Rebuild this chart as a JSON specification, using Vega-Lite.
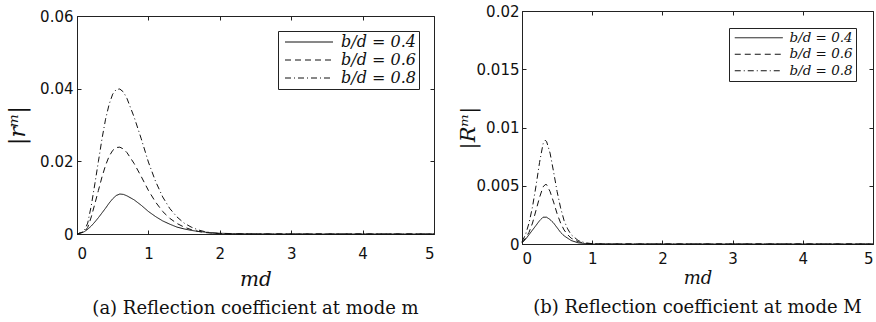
{
  "$schema": "https://vega.github.io/schema/vega-lite/v6.json",
  "padding": {"left": 6, "top": 3, "right": 2, "bottom": 2},
  "background": "white",
  "datasets": {
    "left": [
      {"md": 0, "r": 0, "s": "b/d = 0.4"}, {"md": 0.05, "r": 0.0003, "s": "b/d = 0.4"}, {"md": 0.1, "r": 0.0006, "s": "b/d = 0.4"},
      {"md": 0.15, "r": 0.0013, "s": "b/d = 0.4"}, {"md": 0.2, "r": 0.0022, "s": "b/d = 0.4"}, {"md": 0.25, "r": 0.0033, "s": "b/d = 0.4"},
      {"md": 0.3, "r": 0.0045, "s": "b/d = 0.4"}, {"md": 0.35, "r": 0.0058, "s": "b/d = 0.4"}, {"md": 0.4, "r": 0.0071, "s": "b/d = 0.4"},
      {"md": 0.45, "r": 0.0085, "s": "b/d = 0.4"}, {"md": 0.5, "r": 0.0097, "s": "b/d = 0.4"}, {"md": 0.55, "r": 0.0106, "s": "b/d = 0.4"},
      {"md": 0.6, "r": 0.011, "s": "b/d = 0.4"}, {"md": 0.65, "r": 0.0109, "s": "b/d = 0.4"}, {"md": 0.7, "r": 0.0105, "s": "b/d = 0.4"},
      {"md": 0.8, "r": 0.0094, "s": "b/d = 0.4"}, {"md": 0.9, "r": 0.0079, "s": "b/d = 0.4"}, {"md": 1.0, "r": 0.0062, "s": "b/d = 0.4"},
      {"md": 1.1, "r": 0.0048, "s": "b/d = 0.4"}, {"md": 1.2, "r": 0.0036, "s": "b/d = 0.4"}, {"md": 1.3, "r": 0.0027, "s": "b/d = 0.4"},
      {"md": 1.4, "r": 0.0019, "s": "b/d = 0.4"}, {"md": 1.5, "r": 0.0014, "s": "b/d = 0.4"}, {"md": 1.6, "r": 0.001, "s": "b/d = 0.4"},
      {"md": 1.7, "r": 0.0007, "s": "b/d = 0.4"}, {"md": 1.8, "r": 0.0005, "s": "b/d = 0.4"}, {"md": 1.9, "r": 0.0003, "s": "b/d = 0.4"},
      {"md": 2.0, "r": 0.0002, "s": "b/d = 0.4"}, {"md": 2.2, "r": 0.0001, "s": "b/d = 0.4"}, {"md": 2.5, "r": 0.00003, "s": "b/d = 0.4"},
      {"md": 3, "r": 0, "s": "b/d = 0.4"}, {"md": 4, "r": 0, "s": "b/d = 0.4"}, {"md": 5, "r": 0, "s": "b/d = 0.4"},

      {"md": 0, "r": 0, "s": "b/d = 0.6"}, {"md": 0.05, "r": 0.0003, "s": "b/d = 0.6"}, {"md": 0.1, "r": 0.0005, "s": "b/d = 0.6"},
      {"md": 0.15, "r": 0.0018, "s": "b/d = 0.6"}, {"md": 0.2, "r": 0.0047, "s": "b/d = 0.6"}, {"md": 0.25, "r": 0.0083, "s": "b/d = 0.6"},
      {"md": 0.3, "r": 0.012, "s": "b/d = 0.6"}, {"md": 0.35, "r": 0.0157, "s": "b/d = 0.6"}, {"md": 0.4, "r": 0.0189, "s": "b/d = 0.6"},
      {"md": 0.45, "r": 0.0214, "s": "b/d = 0.6"}, {"md": 0.5, "r": 0.023, "s": "b/d = 0.6"}, {"md": 0.55, "r": 0.0238, "s": "b/d = 0.6"},
      {"md": 0.6, "r": 0.0239, "s": "b/d = 0.6"}, {"md": 0.65, "r": 0.0234, "s": "b/d = 0.6"}, {"md": 0.7, "r": 0.0224, "s": "b/d = 0.6"},
      {"md": 0.8, "r": 0.0194, "s": "b/d = 0.6"}, {"md": 0.9, "r": 0.0158, "s": "b/d = 0.6"}, {"md": 1.0, "r": 0.012, "s": "b/d = 0.6"},
      {"md": 1.1, "r": 0.0088, "s": "b/d = 0.6"}, {"md": 1.2, "r": 0.0062, "s": "b/d = 0.6"}, {"md": 1.3, "r": 0.0043, "s": "b/d = 0.6"},
      {"md": 1.4, "r": 0.0029, "s": "b/d = 0.6"}, {"md": 1.5, "r": 0.0019, "s": "b/d = 0.6"}, {"md": 1.6, "r": 0.0012, "s": "b/d = 0.6"},
      {"md": 1.7, "r": 0.0007, "s": "b/d = 0.6"}, {"md": 1.8, "r": 0.0004, "s": "b/d = 0.6"}, {"md": 1.9, "r": 0.0002, "s": "b/d = 0.6"},
      {"md": 2.0, "r": 0.0001, "s": "b/d = 0.6"}, {"md": 2.2, "r": 0.00003, "s": "b/d = 0.6"}, {"md": 2.5, "r": 0, "s": "b/d = 0.6"},
      {"md": 3, "r": 0, "s": "b/d = 0.6"}, {"md": 4, "r": 0, "s": "b/d = 0.6"}, {"md": 5, "r": 0, "s": "b/d = 0.6"},

      {"md": 0, "r": 0, "s": "b/d = 0.8"}, {"md": 0.05, "r": 0.0003, "s": "b/d = 0.8"}, {"md": 0.1, "r": 0.0008, "s": "b/d = 0.8"},
      {"md": 0.15, "r": 0.003, "s": "b/d = 0.8"}, {"md": 0.2, "r": 0.0078, "s": "b/d = 0.8"}, {"md": 0.25, "r": 0.0138, "s": "b/d = 0.8"},
      {"md": 0.3, "r": 0.02, "s": "b/d = 0.8"}, {"md": 0.35, "r": 0.0262, "s": "b/d = 0.8"}, {"md": 0.4, "r": 0.0316, "s": "b/d = 0.8"},
      {"md": 0.45, "r": 0.0357, "s": "b/d = 0.8"}, {"md": 0.5, "r": 0.0385, "s": "b/d = 0.8"}, {"md": 0.55, "r": 0.0398, "s": "b/d = 0.8"},
      {"md": 0.6, "r": 0.0399, "s": "b/d = 0.8"}, {"md": 0.65, "r": 0.0391, "s": "b/d = 0.8"}, {"md": 0.7, "r": 0.0373, "s": "b/d = 0.8"},
      {"md": 0.8, "r": 0.0322, "s": "b/d = 0.8"}, {"md": 0.9, "r": 0.0262, "s": "b/d = 0.8"}, {"md": 1.0, "r": 0.0198, "s": "b/d = 0.8"},
      {"md": 1.1, "r": 0.0145, "s": "b/d = 0.8"}, {"md": 1.2, "r": 0.0102, "s": "b/d = 0.8"}, {"md": 1.3, "r": 0.007, "s": "b/d = 0.8"},
      {"md": 1.4, "r": 0.0047, "s": "b/d = 0.8"}, {"md": 1.5, "r": 0.003, "s": "b/d = 0.8"}, {"md": 1.6, "r": 0.0019, "s": "b/d = 0.8"},
      {"md": 1.7, "r": 0.0011, "s": "b/d = 0.8"}, {"md": 1.8, "r": 0.0006, "s": "b/d = 0.8"}, {"md": 1.9, "r": 0.0003, "s": "b/d = 0.8"},
      {"md": 2.0, "r": 0.00015, "s": "b/d = 0.8"}, {"md": 2.2, "r": 0.00004, "s": "b/d = 0.8"}, {"md": 2.5, "r": 0, "s": "b/d = 0.8"},
      {"md": 3, "r": 0, "s": "b/d = 0.8"}, {"md": 4, "r": 0, "s": "b/d = 0.8"}, {"md": 5, "r": 0, "s": "b/d = 0.8"}
    ],
    "right": [
      {"md": 0, "r": 0.0001, "s": "b/d = 0.4"}, {"md": 0.05, "r": 0.0004, "s": "b/d = 0.4"}, {"md": 0.1, "r": 0.0008, "s": "b/d = 0.4"},
      {"md": 0.15, "r": 0.0012, "s": "b/d = 0.4"}, {"md": 0.2, "r": 0.0016, "s": "b/d = 0.4"}, {"md": 0.25, "r": 0.002, "s": "b/d = 0.4"},
      {"md": 0.3, "r": 0.0023, "s": "b/d = 0.4"}, {"md": 0.35, "r": 0.0023, "s": "b/d = 0.4"}, {"md": 0.4, "r": 0.0021, "s": "b/d = 0.4"},
      {"md": 0.45, "r": 0.0018, "s": "b/d = 0.4"}, {"md": 0.5, "r": 0.0014, "s": "b/d = 0.4"}, {"md": 0.55, "r": 0.001, "s": "b/d = 0.4"},
      {"md": 0.6, "r": 0.0007, "s": "b/d = 0.4"}, {"md": 0.7, "r": 0.0003, "s": "b/d = 0.4"}, {"md": 0.8, "r": 0.0001, "s": "b/d = 0.4"},
      {"md": 0.9, "r": 0.00004, "s": "b/d = 0.4"}, {"md": 1.0, "r": 0, "s": "b/d = 0.4"}, {"md": 2, "r": 0, "s": "b/d = 0.4"},
      {"md": 3, "r": 0, "s": "b/d = 0.4"}, {"md": 4, "r": 0, "s": "b/d = 0.4"}, {"md": 5, "r": 0, "s": "b/d = 0.4"},

      {"md": 0, "r": 0.0001, "s": "b/d = 0.6"}, {"md": 0.05, "r": 0.0005, "s": "b/d = 0.6"}, {"md": 0.1, "r": 0.001, "s": "b/d = 0.6"},
      {"md": 0.15, "r": 0.0018, "s": "b/d = 0.6"}, {"md": 0.2, "r": 0.0029, "s": "b/d = 0.6"}, {"md": 0.25, "r": 0.004, "s": "b/d = 0.6"},
      {"md": 0.3, "r": 0.0049, "s": "b/d = 0.6"}, {"md": 0.33, "r": 0.0051, "s": "b/d = 0.6"}, {"md": 0.35, "r": 0.0051, "s": "b/d = 0.6"},
      {"md": 0.4, "r": 0.0045, "s": "b/d = 0.6"}, {"md": 0.45, "r": 0.0036, "s": "b/d = 0.6"}, {"md": 0.5, "r": 0.0026, "s": "b/d = 0.6"},
      {"md": 0.55, "r": 0.0018, "s": "b/d = 0.6"}, {"md": 0.6, "r": 0.0012, "s": "b/d = 0.6"}, {"md": 0.65, "r": 0.0008, "s": "b/d = 0.6"},
      {"md": 0.7, "r": 0.0005, "s": "b/d = 0.6"}, {"md": 0.8, "r": 0.0002, "s": "b/d = 0.6"}, {"md": 0.9, "r": 0.00006, "s": "b/d = 0.6"},
      {"md": 1.0, "r": 0.00002, "s": "b/d = 0.6"}, {"md": 1.2, "r": 0, "s": "b/d = 0.6"}, {"md": 2, "r": 0, "s": "b/d = 0.6"},
      {"md": 3, "r": 0, "s": "b/d = 0.6"}, {"md": 4, "r": 0, "s": "b/d = 0.6"}, {"md": 5, "r": 0, "s": "b/d = 0.6"},

      {"md": 0, "r": 0.0002, "s": "b/d = 0.8"}, {"md": 0.05, "r": 0.0008, "s": "b/d = 0.8"}, {"md": 0.1, "r": 0.0018, "s": "b/d = 0.8"},
      {"md": 0.15, "r": 0.0032, "s": "b/d = 0.8"}, {"md": 0.2, "r": 0.005, "s": "b/d = 0.8"}, {"md": 0.25, "r": 0.007, "s": "b/d = 0.8"},
      {"md": 0.3, "r": 0.0086, "s": "b/d = 0.8"}, {"md": 0.33, "r": 0.0089, "s": "b/d = 0.8"}, {"md": 0.35, "r": 0.0088, "s": "b/d = 0.8"},
      {"md": 0.4, "r": 0.0078, "s": "b/d = 0.8"}, {"md": 0.45, "r": 0.0062, "s": "b/d = 0.8"}, {"md": 0.5, "r": 0.0045, "s": "b/d = 0.8"},
      {"md": 0.55, "r": 0.0031, "s": "b/d = 0.8"}, {"md": 0.6, "r": 0.002, "s": "b/d = 0.8"}, {"md": 0.65, "r": 0.0013, "s": "b/d = 0.8"},
      {"md": 0.7, "r": 0.0008, "s": "b/d = 0.8"}, {"md": 0.8, "r": 0.0003, "s": "b/d = 0.8"}, {"md": 0.9, "r": 0.0001, "s": "b/d = 0.8"},
      {"md": 1.0, "r": 0.00003, "s": "b/d = 0.8"}, {"md": 1.2, "r": 0, "s": "b/d = 0.8"}, {"md": 2, "r": 0, "s": "b/d = 0.8"},
      {"md": 3, "r": 0, "s": "b/d = 0.8"}, {"md": 4, "r": 0, "s": "b/d = 0.8"}, {"md": 5, "r": 0, "s": "b/d = 0.8"}
    ],
    "spacer": [{"k": 0}]
  },
  "config": {
    "view": {"stroke": "#222", "strokeWidth": 1},
    "axis": {
      "labelFont": "DejaVu Sans", "labelFontSize": 15, "labelColor": "#111",
      "titleFont": "DejaVu Serif", "titleFontStyle": "italic", "titleFontWeight": "normal", "titleFontSize": 20, "titleColor": "#111",
      "domainColor": "#222", "tickColor": "#222", "tickSize": -4, "grid": false
    },
    "title": {"font": "DejaVu Serif", "fontSize": 18, "fontWeight": "normal", "color": "#111", "orient": "bottom", "anchor": "middle"},
    "concat": {"spacing": 19},
    "legend": {
      "orient": "top-right", "offset": 15, "title": null,
      "strokeColor": "#222", "fillColor": "white", "padding": 3,
      "labelFont": "DejaVu Serif", "labelFontStyle": "italic", "labelFontSize": 16, "labelColor": "#111",
      "symbolType": "M-4,0H4", "symbolSize": 144, "symbolStrokeColor": "#111", "symbolStrokeWidth": 1,
      "symbolOffset": 20, "labelOffset": 24, "rowPadding": 2
    }
  },
  "hconcat": [
    {
      "bounds": "flush",
      "spacing": 4,
      "vconcat": [
        {
          "width": 1, "height": 1,
          "data": {"name": "spacer"},
          "mark": {"type": "point", "opacity": 0},
          "view": {"stroke": null}
        },
        {
          "title": {"text": "(a) Reflection coefficient at mode m", "offset": 11},
          "width": 357, "height": 218,
          "data": {"name": "left"},
          "layer": [
            {
              "mark": {"type": "line", "color": "#111", "strokeWidth": 1},
              "encoding": {
                "x": {"field": "md", "type": "quantitative", "scale": {"domain": [0, 5], "nice": false}, "axis": {"title": "md", "values": [0, 1, 2, 3, 4, 5], "labelPadding": 16, "titlePadding": 8}},
                "y": {"field": "r", "type": "quantitative", "scale": {"domain": [0, 0.06], "nice": false}, "axis": {"title": "|rᵐ|", "values": [0, 0.02, 0.04, 0.06], "format": "~g", "labelPadding": 8, "titlePadding": 10, "titleFontSize": 22}},
                "strokeDash": {"field": "s", "type": "nominal", "scale": {"domain": ["b/d = 0.4", "b/d = 0.6", "b/d = 0.8"], "range": [[1, 0], [6, 4], [6, 3, 1, 3]]}}
              }
            },
            {
              "mark": {"type": "line", "opacity": 0},
              "encoding": {
                "x": {"field": "md", "type": "quantitative", "axis": {"orient": "top", "title": null, "labels": false, "domain": false, "values": [0, 1, 2, 3, 4, 5]}},
                "y": {"field": "r", "type": "quantitative", "axis": {"orient": "right", "title": null, "labels": false, "domain": false, "values": [0, 0.02, 0.04, 0.06]}},
                "detail": {"field": "s"}
              }
            }
          ],
          "resolve": {"axis": {"x": "independent", "y": "independent"}}
        }
      ],
      "resolve": {"scale": {"strokeDash": "independent"}, "legend": {"strokeDash": "independent"}}
    },
    {
      "title": {"text": "(b) Reflection coefficient at mode M", "offset": 12},
      "width": 351, "height": 233,
      "data": {"name": "right"},
      "layer": [
        {
          "mark": {"type": "line", "color": "#111", "strokeWidth": 1},
          "encoding": {
            "x": {"field": "md", "type": "quantitative", "scale": {"domain": [0, 5], "nice": false}, "axis": {"title": "md", "values": [0, 1, 2, 3, 4, 5], "labelPadding": 11, "titlePadding": 3, "titleFontSize": 18}},
            "y": {"field": "r", "type": "quantitative", "scale": {"domain": [0, 0.02], "nice": false}, "axis": {"title": "|Rᵐ|", "values": [0, 0.005, 0.01, 0.015, 0.02], "format": "~g", "labelPadding": 7, "titlePadding": -2, "titleFontSize": 21}},
            "strokeDash": {"field": "s", "type": "nominal", "scale": {"domain": ["b/d = 0.4", "b/d = 0.6", "b/d = 0.8"], "range": [[1, 0], [6, 4], [6, 3, 1, 3]]}, "legend": {"labelFontSize": 13.5, "rowPadding": 1.5, "offset": 17}}
          }
        },
        {
          "mark": {"type": "line", "opacity": 0},
          "encoding": {
            "x": {"field": "md", "type": "quantitative", "axis": {"orient": "top", "title": null, "labels": false, "domain": false, "values": [0, 1, 2, 3, 4, 5]}},
            "y": {"field": "r", "type": "quantitative", "axis": {"orient": "right", "title": null, "labels": false, "domain": false, "values": [0, 0.005, 0.01, 0.015, 0.02]}},
            "detail": {"field": "s"}
          }
        }
      ],
      "resolve": {"axis": {"x": "independent", "y": "independent"}}
    }
  ],
  "resolve": {"scale": {"strokeDash": "independent"}, "legend": {"strokeDash": "independent"}}
}
